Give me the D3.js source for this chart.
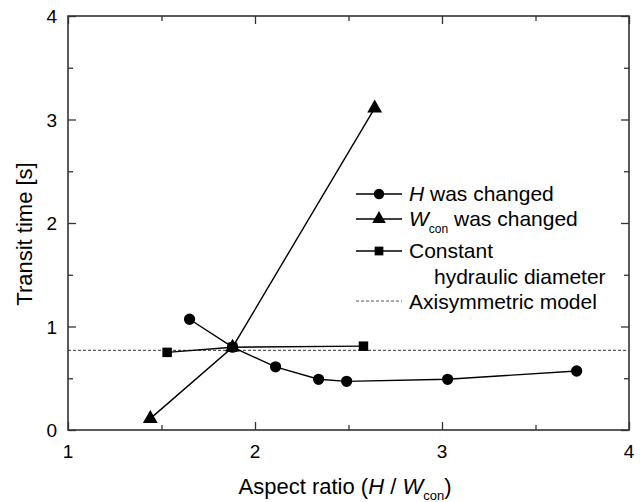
<!DOCTYPE html>
<html><head><meta charset="utf-8">
<script src="https://cdn.jsdelivr.net/npm/d3@7"></script>
<style>body{margin:0;background:#fff}svg{display:block}text{font-family:"Liberation Sans",Arial,sans-serif;fill:#000}</style>
</head><body><svg id="c" width="642" height="502"></svg>
<script>
const hX = [1.65, 1.88, 2.11, 2.34, 2.49, 3.03, 3.72];
const hY = [1.07, 0.80, 0.61, 0.49, 0.47, 0.49, 0.57];
const wX = [1.44, 1.88, 2.64];
const wY = [0.11, 0.80, 3.11];
const cX = [1.53, 1.88, 2.58];
const cY = [0.75, 0.80, 0.81];
const axisymY = 0.77;
const xTicks = [1, 2, 3, 4];
const yTicks = [0, 1, 2, 3, 4];
const xMinor = [1.5, 2.5, 3.5];
const yMinor = [0.5, 1.5, 2.5, 3.5];

const svg = d3.select("#c");
const L = 68, R = 629, T = 16, B = 430;
const x = d3.scaleLinear().domain([1, 4]).range([L, R]);
const y = d3.scaleLinear().domain([0, 4]).range([B, T]);

// dashed model line
svg.append("line").attr("x1", L).attr("x2", R).attr("y1", y(axisymY)).attr("y2", y(axisymY))
  .attr("stroke", "#333").attr("stroke-width", 1).attr("stroke-dasharray", "3,2");

// axes with inward ticks
function ax(gen, tr, ticks, size) {
  const g = svg.append("g").attr("transform", tr)
    .call(gen.tickValues(ticks).tickSize(size).tickFormat(""));
  g.select(".domain").remove();
  g.selectAll("line").attr("stroke", "#333").attr("stroke-width", 1.3);
}
ax(d3.axisBottom(x), `translate(0,${B})`, xTicks, -8);
ax(d3.axisBottom(x), `translate(0,${B})`, xMinor, -5);
ax(d3.axisTop(x), `translate(0,${T})`, xTicks, -8);
ax(d3.axisTop(x), `translate(0,${T})`, xMinor, -5);
ax(d3.axisLeft(y), `translate(${L},0)`, yTicks, -8);
ax(d3.axisLeft(y), `translate(${L},0)`, yMinor, -5);
ax(d3.axisRight(y), `translate(${R},0)`, yTicks, -8);
ax(d3.axisRight(y), `translate(${R},0)`, yMinor, -5);

svg.append("rect").attr("x", L).attr("y", T).attr("width", R - L).attr("height", B - T)
  .attr("fill", "none").attr("stroke", "#333").attr("stroke-width", 1.6);

// tick labels
svg.selectAll(".xl").data(xTicks).enter().append("text")
  .attr("x", d => x(d)).attr("y", 458).attr("text-anchor", "middle")
  .attr("font-size", 19).text(d => d);
svg.selectAll(".yl").data(yTicks).enter().append("text")
  .attr("x", 57).attr("y", d => y(d) + 7).attr("text-anchor", "end")
  .attr("font-size", 19).text(d => d);

// axis titles
const xt = svg.append("text").attr("x", 345).attr("y", 494).attr("text-anchor", "middle").attr("font-size", 22);
xt.append("tspan").text("Aspect ratio (");
xt.append("tspan").attr("font-style", "italic").text("H");
xt.append("tspan").text(" / ");
xt.append("tspan").attr("font-style", "italic").text("W");
xt.append("tspan").attr("font-size", 13).attr("dy", 6).text("con");
xt.append("tspan").attr("dy", -6).text(")");

svg.append("text").attr("transform", "translate(32,234) rotate(-90)")
  .attr("text-anchor", "middle").attr("font-size", 22).text("Transit time [s]");

// series
const line = d3.line().x(d => x(d[0])).y(d => y(d[1]));
const series = [
  {xs: hX, ys: hY, sym: d3.symbolCircle, size: 100},
  {xs: wX, ys: wY, sym: d3.symbolTriangle, size: 95},
  {xs: cX, ys: cY, sym: d3.symbolSquare, size: 90}
];
series.forEach(s => {
  const pts = s.xs.map((v, i) => [v, s.ys[i]]);
  svg.append("path").attr("d", line(pts)).attr("fill", "none").attr("stroke", "#000").attr("stroke-width", 1.4);
  svg.selectAll(null).data(pts).enter().append("path")
    .attr("d", d3.symbol().type(s.sym).size(s.size))
    .attr("transform", d => `translate(${x(d[0])},${y(d[1])})`).attr("fill", "#000");
});

// legend
const lg = svg.append("g");
const rows = [194, 219, 251];
series.forEach((s, i) => {
  lg.append("line").attr("x1", 356).attr("x2", 402).attr("y1", rows[i]).attr("y2", rows[i])
    .attr("stroke", "#000").attr("stroke-width", 1.4);
  lg.append("path").attr("d", d3.symbol().type(s.sym).size(s.size * 0.85))
    .attr("transform", `translate(379,${rows[i]})`).attr("fill", "#000");
});
lg.append("line").attr("x1", 356).attr("x2", 402).attr("y1", 301).attr("y2", 301)
  .attr("stroke", "#555").attr("stroke-width", 1).attr("stroke-dasharray", "3,2");

const fs = 21;
const t1 = lg.append("text").attr("x", 409).attr("y", 201).attr("font-size", fs);
t1.append("tspan").attr("font-style", "italic").text("H");
t1.append("tspan").text(" was changed");
const t2 = lg.append("text").attr("x", 409).attr("y", 226).attr("font-size", fs);
t2.append("tspan").attr("font-style", "italic").text("W");
t2.append("tspan").attr("font-size", 12).attr("dy", 7).text("con");
t2.append("tspan").attr("dy", -7).text(" was changed");
lg.append("text").attr("x", 409).attr("y", 258).attr("font-size", fs).text("Constant");
lg.append("text").attr("x", 434).attr("y", 284).attr("font-size", fs).text("hydraulic diameter");
lg.append("text").attr("x", 409).attr("y", 309).attr("font-size", fs).text("Axisymmetric model");
</script></body></html>
